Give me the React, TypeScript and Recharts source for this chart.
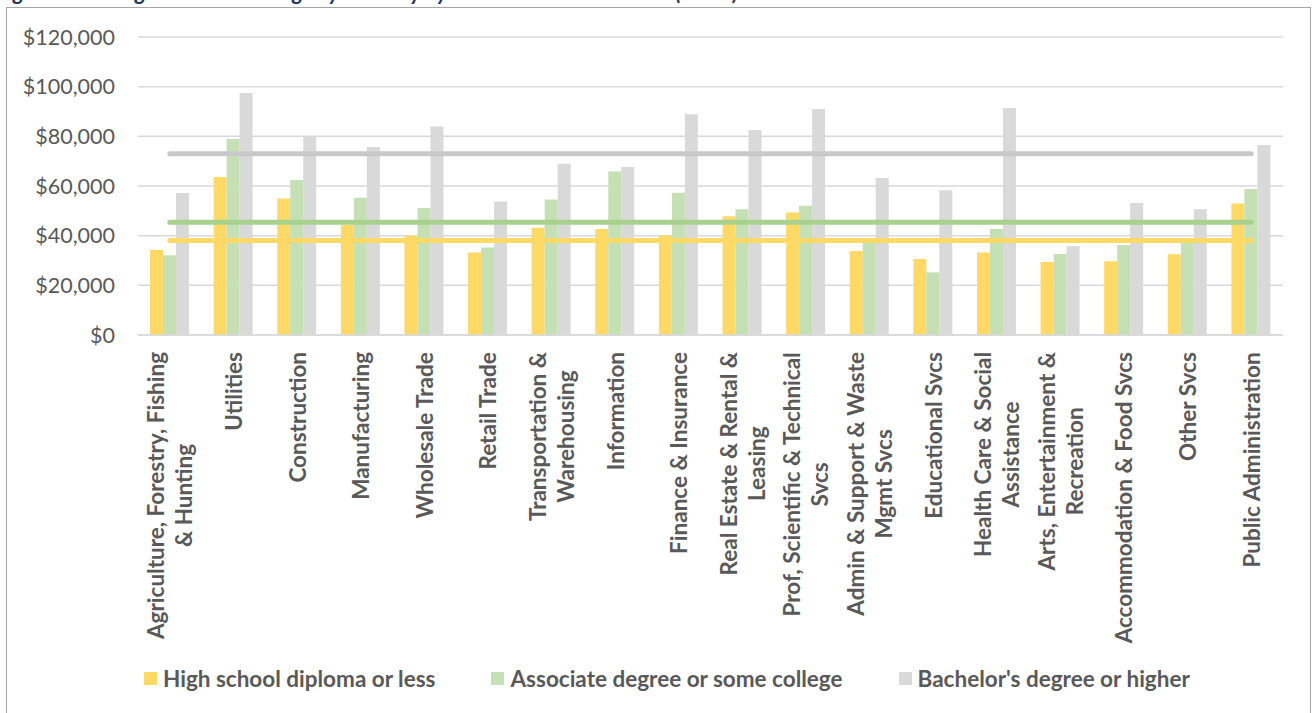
import React from 'react';
import { ComposedChart, Bar, Line, XAxis, YAxis, CartesianGrid } from 'recharts';

// Industries along the category axis
const industries = [
  'Agriculture, Forestry, Fishing & Hunting',
  'Utilities',
  'Construction',
  'Manufacturing',
  'Wholesale Trade',
  'Retail Trade',
  'Transportation & Warehousing',
  'Information',
  'Finance & Insurance',
  'Real Estate & Rental & Leasing',
  'Prof, Scientific & Technical Svcs',
  'Admin & Support & Waste Mgmt Svcs',
  'Educational Svcs',
  'Health Care & Social Assistance',
  'Arts, Entertainment & Recreation',
  'Accommodation & Food Svcs',
  'Other Svcs',
  'Public Administration',
];

// Wrapped tick text, one entry per industry
const industryLines: string[][] = [
  ['Agriculture, Forestry, Fishing', '& Hunting'],
  ['Utilities'],
  ['Construction'],
  ['Manufacturing'],
  ['Wholesale Trade'],
  ['Retail Trade'],
  ['Transportation &', 'Warehousing'],
  ['Information'],
  ['Finance & Insurance'],
  ['Real Estate & Rental &', 'Leasing'],
  ['Prof, Scientific & Technical', 'Svcs'],
  ['Admin & Support & Waste', 'Mgmt Svcs'],
  ['Educational Svcs'],
  ['Health Care & Social', 'Assistance'],
  ['Arts, Entertainment &', 'Recreation'],
  ['Accommodation & Food Svcs'],
  ['Other Svcs'],
  ['Public Administration'],
];

// Average annual earnings by education level
const highSchool = [34200, 63600, 55000, 44300, 40000, 33200, 43200, 42700, 40100, 47800, 49300, 33800, 30600, 33200, 29400, 29700, 32500, 53000];
const associate = [32100, 78900, 62400, 55300, 51100, 35200, 54600, 65800, 57300, 50600, 52000, 38000, 25200, 42700, 32600, 36200, 38000, 58800];
const bachelor = [57200, 97500, 80000, 75700, 84000, 53800, 69000, 67700, 88900, 82600, 91000, 63200, 58300, 91400, 35700, 53200, 50600, 76500];

// All-industry averages drawn as horizontal lines
const highSchoolAvg = 38100;
const associateAvg = 45400;
const bachelorAvg = 73000;

const yTicks = [0, 20000, 40000, 60000, 80000, 100000, 120000];

const seriesNames = [
  'High school diploma or less',
  'Associate degree or some college',
  "Bachelor's degree or higher",
];

const COLORS = {
  hs: '#FFD966',
  assoc: '#C5E0B4',
  ba: '#D9D9D9',
  hsLine: '#FFD966',
  assocLine: '#A9D18E',
  baLine: '#C9C9C9',
  text: '#595959',
};

const rows = industries.map((industry, i) => ({
  industry,
  hs: highSchool[i],
  assoc: associate[i],
  ba: bachelor[i],
  hsAvg: highSchoolAvg,
  assocAvg: associateAvg,
  baAvg: bachelorAvg,
}));

const TICK_SIZE = 22.5;
const TICK_FONT = `bold ${TICK_SIZE}px Lato`;
let measureCtx: CanvasRenderingContext2D | null = null;
const measure = (s: string) => {
  if (!measureCtx) {
    const c = document.createElement('canvas');
    measureCtx = c.getContext('2d');
  }
  if (!measureCtx) return s.length * 10;
  measureCtx.font = TICK_FONT;
  return measureCtx.measureText(s).width;
};

const IndustryTick = (props: any) => {
  const { x, y, index } = props;
  const lines = industryLines[index] || [String(props.payload?.value ?? '')];
  const maxW = Math.max(...lines.map(measure));
  const lineH = 28;
  const top = y + 17;
  return (
    <g transform={`translate(${x},${top})`}>
      {lines.map((ln, i) => (
        <text
          key={i}
          transform="rotate(-90)"
          x={-maxW / 2}
          y={(i - (lines.length - 1) / 2) * lineH}
          textAnchor="middle"
          dominantBaseline="central"
          fontFamily="Lato"
          fontWeight="bold"
          fontSize={TICK_SIZE}
          fill={COLORS.text}
        >
          {ln}
        </text>
      ))}
    </g>
  );
};

const fmtDollar = (v: number) => '$' + v.toLocaleString('en-US');

export default function App() {
  const legendColors = [COLORS.hs, COLORS.assoc, COLORS.ba];
  return (
    <div
      style={{
        position: 'absolute',
        left: 0,
        top: 0,
        width: 1315,
        height: 713,
        overflow: 'hidden',
        background: '#fff',
        fontFamily: 'Lato',
      }}
    >
      <div
        style={{
          position: 'absolute',
          left: -4,
          top: -21,
          fontSize: 22,
          lineHeight: '26px',
          fontWeight: 'bold',
          fontStyle: 'italic',
          color: '#1F3864',
          whiteSpace: 'nowrap',
        }}
      >
        Figure 4: Average Annual Earnings by Industry by Educational Attainment (2017)
      </div>
      <div
        style={{
          position: 'absolute',
          left: 6,
          top: 7,
          width: 1305,
          height: 730,
          border: '1.5px solid #A6A6A6',
          boxSizing: 'border-box',
        }}
      />
      <div style={{ position: 'absolute', left: 0, top: 0 }}>
        <ComposedChart
          width={1315}
          height={713}
          data={rows}
          margin={{ top: 37, right: 32, left: 0, bottom: 0 }}
          barGap={0}
        >
          <CartesianGrid vertical={false} stroke="#D9D9D9" strokeWidth={1.5} />
          <XAxis
            dataKey="industry"
            interval={0}
            height={378}
            tickLine={false}
            tickSize={0}
            tickMargin={0}
            axisLine={{ stroke: '#D9D9D9', strokeWidth: 1.5 }}
            tick={<IndustryTick />}
          />
          <YAxis
            width={138}
            domain={[0, 120000]}
            ticks={yTicks}
            axisLine={false}
            tickLine={false}
            tickSize={0}
            tickMargin={23}
            tickFormatter={fmtDollar}
            tick={{ fill: COLORS.text, fontSize: 21.5, fontFamily: 'Lato' }}
          />
          <Bar dataKey="hs" name={seriesNames[0]} fill={COLORS.hs} barSize={13} isAnimationActive={false} />
          <Bar dataKey="assoc" name={seriesNames[1]} fill={COLORS.assoc} barSize={13} isAnimationActive={false} />
          <Bar dataKey="ba" name={seriesNames[2]} fill={COLORS.ba} barSize={13} isAnimationActive={false} />
          <Line dataKey="baAvg" type="linear" stroke={COLORS.baLine} strokeWidth={5} strokeLinecap="round" dot={false} activeDot={false} legendType="none" isAnimationActive={false} />
          <Line dataKey="assocAvg" type="linear" stroke={COLORS.assocLine} strokeWidth={5} strokeLinecap="round" dot={false} activeDot={false} legendType="none" isAnimationActive={false} />
          <Line dataKey="hsAvg" type="linear" stroke={COLORS.hsLine} strokeWidth={5} strokeLinecap="round" dot={false} activeDot={false} legendType="none" isAnimationActive={false} />
        </ComposedChart>
      </div>
      <div
        style={{
          position: 'absolute',
          left: 144,
          top: 665,
          display: 'flex',
          alignItems: 'center',
          gap: 56,
          fontSize: 22.5,
          fontWeight: 'bold',
          color: COLORS.text,
          whiteSpace: 'nowrap',
        }}
      >
        {seriesNames.map((n, i) => (
          <div key={n} style={{ display: 'flex', alignItems: 'center' }}>
            <span style={{ display: 'inline-block', width: 13, height: 13, background: legendColors[i], marginRight: 6 }} />
            <span>{n}</span>
          </div>
        ))}
      </div>
    </div>
  );
}
